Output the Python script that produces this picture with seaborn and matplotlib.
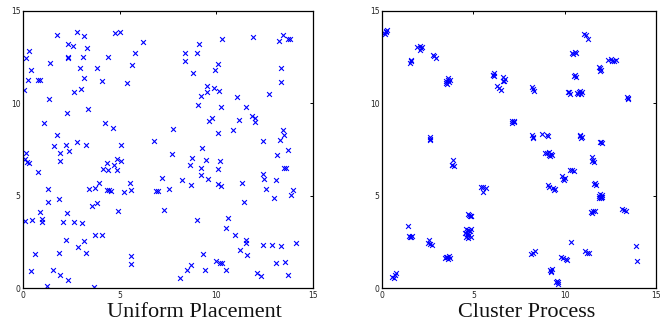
import matplotlib
matplotlib.use("Agg")
import matplotlib.pyplot as plt
import seaborn as sns
import pandas as pd

# ---------------- data: Uniform Placement ----------------
uniform_x = [1.74, 2.76, 3.16, 4.75, 4.99, 6.22, 0.31, 2.30, 2.59, 3.30, 0.12, 2.30, 2.31, 3.07, 4.39,
             5.80, 1.38, 0.41, 2.94, 3.80, 5.61, 0.26, 0.74, 0.88, 3.13, 4.06, 5.37, 0.02, 2.99, 2.64,
             1.31, 3.37, 2.25, 1.09, 4.23, 4.66, 1.76, 6.79, 2.78, 1.59, 2.21, 3.23, 5.04,
             10.29, 11.93, 13.47, 13.25, 13.73, 13.82, 9.09, 8.40, 9.02, 8.40, 10.09, 9.92, 8.81, 13.37,
             13.35, 9.54, 9.50, 9.88, 10.15, 9.19, 11.06, 12.71, 9.03, 10.24, 11.56, 9.79, 9.62, 11.16,
             11.87, 12.01, 12.01, 7.76, 10.09, 10.87, 13.44, 13.53, 12.43, 13.30, 9.28, 13.70,
             0.14, 0.09, 0.17, 0.31, 1.92, 2.35, 1.92, 0.78, 4.34, 4.72, 4.87, 5.08, 4.13, 4.39, 4.87,
             7.20, 5.53, 3.92, 3.71, 3.40, 4.34, 4.44, 4.53, 5.23, 5.56, 6.86, 6.98, 7.55, 1.30, 1.85,
             1.28, 3.82, 3.56, 7.29, 4.91, 0.85, 2.28, 0.07, 0.45, 0.95, 0.98, 2.04, 2.64, 3.04, 3.71,
             4.09, 2.21, 3.16, 2.82, 0.60, 1.87, 3.23, 5.60, 5.60, 0.41, 1.55, 1.92, 2.30, 1.21, 3.66,
             7.72, 8.72, 8.62, 9.45, 10.21, 9.22, 10.07, 9.22, 9.55, 10.11, 10.24, 8.69, 8.24, 11.33,
             12.42, 12.50, 13.11, 13.16, 13.51, 13.61, 12.58, 12.97, 14.00, 13.89, 11.42, 9.02, 10.61,
             10.52, 10.99, 11.52, 11.54, 11.23, 11.61, 12.44, 12.91, 13.35, 14.11, 9.33, 9.99, 10.19,
             10.31, 13.11, 13.56, 8.67, 8.47, 9.43, 10.50, 12.09, 12.30, 13.72, 8.12]
uniform_y = [13.68, 13.83, 13.63, 13.78, 13.86, 13.29, 12.83, 13.19, 13.07, 12.98, 12.42, 12.51, 12.45,
             12.51, 12.51, 12.73, 12.20, 11.82, 11.93, 11.93, 12.09, 11.28, 11.28, 11.25, 11.39, 11.21,
             11.10, 10.69, 10.78, 10.58, 10.25, 9.69, 9.48, 8.92, 8.92, 8.66, 8.29, 7.96, 7.91, 7.69,
             7.73, 7.74, 7.73,
             13.47, 13.59, 13.70, 13.36, 13.50, 13.45, 13.23, 12.73, 12.73, 12.29, 12.13, 11.77, 11.66,
             11.91, 11.14, 10.92, 10.61, 10.81, 10.67, 10.40, 10.34, 10.51, 9.89, 9.77, 9.80, 9.21, 9.03,
             9.08, 9.30, 9.21, 8.99, 8.63, 8.39, 8.54, 8.57, 8.29, 7.94, 8.01, 7.60, 7.49,
             7.28, 7.00, 6.82, 6.77, 7.28, 7.40, 6.88, 6.26, 6.75, 6.68, 6.97, 6.86, 6.44, 6.41, 6.37,
             5.96, 5.69, 5.69, 5.42, 5.38, 5.32, 5.29, 5.25, 5.22, 5.31, 5.25, 5.27, 5.38, 5.34, 4.84,
             4.64, 4.62, 4.46, 4.22, 4.15, 4.12, 4.04, 3.61, 3.66, 3.74, 3.57, 3.57, 3.59, 3.54, 2.89,
             2.89, 2.61, 2.54, 2.22, 1.86, 1.90, 1.90, 1.72, 1.30, 0.94, 0.99, 0.71, 0.45, 0.09, 0.04,
             7.27, 7.04, 6.66, 6.90, 6.86, 6.48, 6.44, 6.14, 5.90, 5.63, 5.52, 5.56, 5.84, 5.69,
             6.15, 5.90, 5.84, 7.20, 6.48, 6.48, 5.34, 4.85, 5.31, 5.04, 4.66, 3.70, 3.81,
             3.23, 2.85, 2.61, 2.42, 2.07, 1.80, 2.33, 2.33, 2.26, 2.44, 1.84, 1.48, 1.35,
             1.35, 1.35, 1.39, 1.26, 0.96, 0.96, 0.96, 0.83, 0.63, 0.70, 0.56]

# ---------------- data: Cluster Process ----------------
cluster_x = [0.10, 0.18, 0.28, 0.14, 0.22,
             1.90, 2.05, 2.20, 2.08, 2.12,
             1.52, 1.60, 1.55,
             2.78, 2.95, 2.85,
             3.50, 3.60, 3.65, 3.55, 3.70, 3.58, 3.48,
             6.05, 6.12, 6.15, 6.08,
             6.62, 6.68, 6.72, 6.60,
             6.32, 6.42, 6.50,
             7.10, 7.20, 7.25, 7.14,
             2.60, 2.64, 2.62,
             11.09, 11.15, 11.27,
             10.41, 10.55, 10.62, 10.48,
             12.40, 12.55, 12.70, 12.80, 12.62,
             11.90, 12.02, 11.96, 11.92,
             10.50, 10.60, 10.55,
             8.21, 8.28, 8.32,
             10.20, 10.32, 10.26,
             10.70, 10.80, 10.90, 10.85, 10.75, 10.95,
             13.40, 13.50, 13.46,
             8.22, 8.28, 8.26,
             8.78, 9.02, 9.10,
             10.85, 10.95, 10.90, 10.82,
             11.95, 12.05, 12.00,
             3.90, 3.85, 3.92, 3.80,
             5.40, 5.52, 5.68, 5.50,
             4.70, 4.80, 4.85, 4.75, 4.88,
             4.60, 4.70, 4.80, 4.85, 4.55, 4.65, 4.75, 4.60, 4.72, 4.85, 4.70,
             1.41,
             1.48, 1.58, 1.65, 1.52,
             2.58, 2.50, 2.62, 2.72,
             3.45, 3.55, 3.65, 3.60, 3.50, 3.70,
             0.55, 0.68, 0.75, 0.62,
             8.90, 9.05, 9.15, 9.25, 9.20, 9.12, 9.30,
             11.52, 11.58, 11.60, 11.50,
             10.30, 10.42, 10.50,
             9.85, 9.92, 9.98, 10.05,
             9.09, 9.12, 9.35, 9.45, 9.42,
             11.62, 11.70, 11.66,
             11.88, 11.95, 12.05, 11.98, 11.90, 12.08, 12.00,
             11.45, 11.55, 11.65, 11.50,
             13.15, 13.25, 13.35,
             10.35,
             8.15, 8.28, 8.40,
             11.10, 11.22, 11.35,
             9.82, 9.92, 10.08, 10.15,
             13.94,
             13.99,
             9.22, 9.28, 9.30, 9.25,
             9.58, 9.65, 9.62, 9.55]
cluster_y = [13.80, 13.90, 13.98, 13.75, 13.84,
             13.05, 13.10, 13.02, 12.88, 13.00,
             12.20, 12.28, 12.32,
             12.62, 12.45, 12.55,
             11.20, 11.35, 11.15, 11.05, 11.25, 11.28, 11.12,
             11.55, 11.62, 11.48, 11.50,
             11.42, 11.22, 11.30, 11.18,
             10.94, 10.80, 10.72,
             9.05, 8.98, 9.02, 8.95,
             8.18, 8.05, 8.00,
             13.72, 13.68, 13.47,
             12.69, 12.78, 12.72, 12.66,
             12.32, 12.38, 12.30, 12.35, 12.28,
             11.95, 11.82, 11.75, 11.88,
             11.45, 11.40, 11.50,
             10.88, 10.75, 10.68,
             10.58, 10.52, 10.62,
             10.55, 10.62, 10.50, 10.66, 10.48, 10.60,
             10.35, 10.28, 10.22,
             8.30, 8.18, 8.10,
             8.36, 8.30, 8.25,
             8.25, 8.18, 8.12, 8.30,
             7.90, 7.82, 7.88,
             6.92, 6.66, 6.62, 6.64,
             5.48, 5.46, 5.40, 5.20,
             4.00, 3.92, 3.88, 3.95, 3.92,
             3.20, 3.15, 3.10, 3.18, 2.95, 2.90, 2.85, 2.75, 2.70, 2.78, 3.00,
             3.36,
             2.82, 2.78, 2.84, 2.76,
             2.62, 2.45, 2.40, 2.35,
             1.60, 1.70, 1.75, 1.55, 1.68, 1.62,
             0.62, 0.70, 0.82, 0.55,
             7.33, 7.30, 7.22, 7.26, 7.15, 7.35, 7.20,
             7.08, 6.95, 6.80, 6.88,
             6.38, 6.36, 6.32,
             6.05, 5.92, 5.85, 5.95,
             5.58, 5.48, 5.42, 5.38, 5.30,
             5.62, 5.55, 5.70,
             4.98, 5.08, 4.95, 4.85, 4.88, 5.02, 4.92,
             4.12, 4.15, 4.18, 4.05,
             4.30, 4.22, 4.18,
             2.49,
             1.86, 1.92, 1.98,
             2.00, 1.90, 1.88,
             1.68, 1.62, 1.55, 1.52,
             2.29,
             1.48,
             1.00, 0.92, 1.05, 0.85,
             0.40, 0.30, 0.22, 0.35]

panel_titles = ["Uniform Placement", "Cluster Process"]
tick_values = [0, 5, 10, 15]

sns.set_style("white")
plt.rcParams["font.family"] = ["DejaVu Sans"]

fig = plt.figure(figsize=(6.61, 3.24), dpi=100)
ax1 = fig.add_axes([23.3 / 661, 1 - 288 / 324, (312.7 - 23.3) / 661, (288 - 10.8) / 324])
ax2 = fig.add_axes([382.3 / 661, 1 - 288 / 324, (655.7 - 382.3) / 661, (288 - 10.8) / 324])

datasets = [
    pd.DataFrame({"x": uniform_x, "y": uniform_y}),
    pd.DataFrame({"x": cluster_x, "y": cluster_y}),
]
label_xpos = [0.593, 0.529]

for ax, df, title, lx in zip([ax1, ax2], datasets, panel_titles, label_xpos):
    sns.scatterplot(data=df, x="x", y="y", ax=ax, marker="x", color="#0000ff",
                    s=12, linewidth=0.8)
    ax.set_xlim(0, 15)
    ax.set_ylim(0, 15)
    ax.set_xticks(tick_values)
    ax.set_yticks(tick_values)
    ax.tick_params(direction="in", length=2.5, width=0.7, labelsize=5.5,
                   top=True, right=True, pad=2, colors="black", labelcolor="#222222")
    for sp in ax.spines.values():
        sp.set_visible(True)
        sp.set_color("black")
        sp.set_linewidth(0.9)
    ax.set_ylabel("")
    ax.set_xlabel(title, fontsize=16, family=["Liberation Serif"], va="baseline",
                  color="#111111")
    ax.xaxis.set_label_coords(lx, -0.105)

fig.savefig("out.png", dpi=100)
